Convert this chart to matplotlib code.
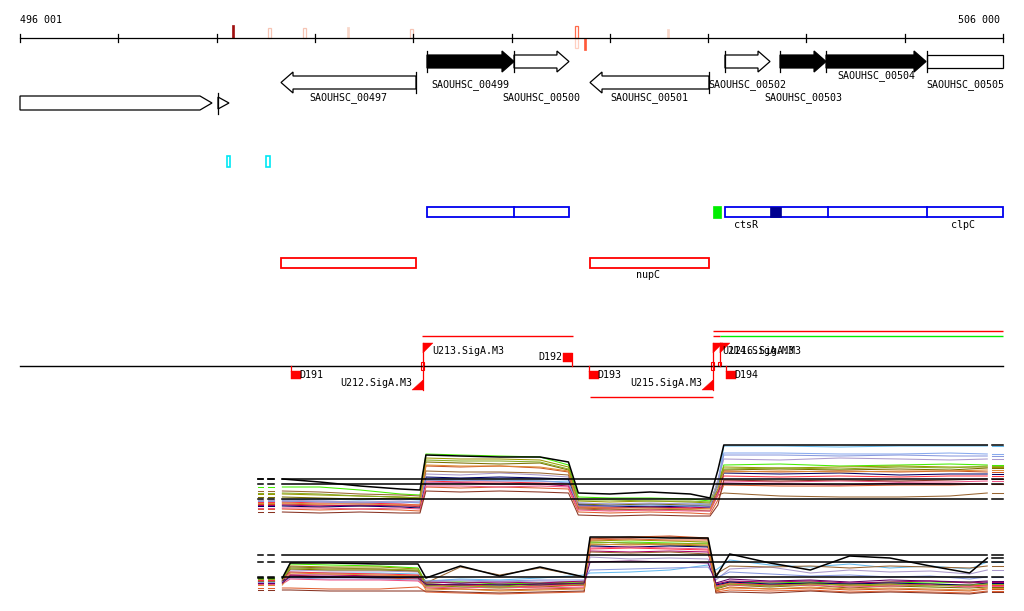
import matplotlib
matplotlib.use("Agg")
import matplotlib.pyplot as plt
from matplotlib.patches import Polygon, Rectangle

plt.rcParams['font.family'] = ['DejaVu Sans Mono', 'DejaVu Sans']

# ---------------------------------------------------------------- data
START, END = 496001, 506000
ruler_ticks = [496001, 497001, 498001, 499001, 500001, 501001, 502001,
               503001, 504001, 505001, 506000]
ruler_labels = ["496 001", "506 000"]

# small marks on the ruler (position, strand, score)
mark_pos = [498168, 498539, 498895, 499337, 499983, 501666, 501666, 501748, 502592]
mark_strand = [1, 1, 1, 1, 1, 1, -1, -1, 1]
mark_score = [13, 10, 10, 11, 9, 12, 10, 12, 9]
mark_color = ['#a01010', '#f6c4b4', '#f6c4b4', '#f8d6c8', '#f6c4b4',
              '#ff6a4a', '#ffcfc0', '#ff5a3a', '#f8d6c8']
mark_open = [False, True, True, False, True, True, True, False, False]

# genes
gene_names = ["", "", "SAOUHSC_00497", "SAOUHSC_00499", "SAOUHSC_00500",
              "SAOUHSC_00501", "SAOUHSC_00502", "SAOUHSC_00503",
              "SAOUHSC_00504", "SAOUHSC_00505"]
gene_start = [496001, 498015, 498656, 500141, 501026, 501799, 503172, 503732, 504200, 505227]
gene_end = [497954, 498127, 500029, 501026, 501585, 503009, 503630, 504200, 505217, 506000]
gene_strand = [1, 1, -1, 1, 1, -1, 1, 1, 1, 1]
gene_filled = [False, False, False, True, False, False, False, True, True, False]

# small cyan features
cyan_start = [498107, 498503]
cyan_end = [498137, 498544]

# operons (blue)
op_start = [500141, 503172]
op_end = [501585, 506000]
op_dividers = [[501026], [504220, 505227]]
navy_block = (503630, 503742)
green_block = (503050, 503131)
op_labels = ["ctsR", "clpC"]
op_label_pos = [503386, 505593]

# red boxes
red_start = [498656, 501799]
red_end = [500029, 503009]
red_labels = ["", "nupC"]
red_label_pos = [499342, 502389]

# transcripts
tx_start = [500090, 501799, 503050, 503050, 503121]
tx_end = [501626, 503050, 506000, 503121, 506000]
tx_color = ['#ff0000', '#ff0000', '#ff0000', '#ff0000', '#00ee00']

# sites
site_names = ["D191", "U212.SigA.M3", "U213.SigA.M3", "D192", "D193",
              "U215.SigA.M3", "U214.SigA.M3", "U216.SigA.M3", "D194"]
site_pos = [498758, 500100, 500100, 501616, 501789, 503050, 503050, 503121, 503182]
site_strand = [-1, -1, 1, 1, -1, -1, 1, 1, -1]

# expression profiles: positions
expr_left_stubs = [(498422, 498472), (498524, 498585)]
expr_right_stub = (505888, 506000)

p1_x = [498670, 499050, 499460, 499870, 500070,
        500130, 500480, 500880, 501290, 501580,
        501680, 502000, 502410, 502820, 503020,
        503100,
        503160, 503730, 504340, 504950, 505460, 505840]
p1_series = [
    [8.2, 7.6, 6.8, 6.2, 6.0, 13.0, 12.8, 12.6, 12.6, 11.6, 5.4, 5.2, 5.6, 5.2, 4.4, 10.0, 15.0, 15.0, 15.0, 15.0, 15.0, 15.0],
    [4.0, 4.2, 4.0, 4.2, 4.0, 8.0, 7.8, 8.0, 7.8, 7.6, 3.0, 2.8, 3.0, 2.8, 3.0, 7.0, 14.8, 14.8, 14.6, 14.8, 14.8, 14.8],
    [3.6, 3.8, 3.6, 3.4, 3.6, 8.4, 8.2, 8.4, 8.2, 8.0, 3.4, 3.2, 3.2, 3.4, 3.2, 8.0, 13.4, 13.4, 13.2, 13.2, 13.4, 13.2],
    [6.6, 6.6, 6.0, 5.2, 5.0, 13.2, 13.0, 12.8, 12.6, 11.0, 4.6, 4.4, 4.4, 4.2, 3.8, 7.0, 11.0, 11.2, 10.8, 11.0, 11.2, 11.0],
    [5.2, 5.0, 4.8, 4.6, 4.4, 12.4, 12.2, 12.2, 12.0, 10.6, 3.8, 3.6, 3.8, 3.6, 3.4, 7.6, 10.6, 10.4, 10.6, 10.8, 10.6, 10.6],
    [4.6, 4.4, 4.2, 4.4, 4.2, 11.6, 11.4, 11.2, 11.4, 10.0, 3.2, 3.0, 3.2, 3.0, 3.0, 7.0, 10.0, 10.2, 10.0, 10.2, 10.0, 10.4],
    [3.2, 3.0, 2.8, 3.0, 2.6, 10.8, 10.6, 10.8, 10.4, 9.6, 2.4, 2.2, 2.0, 2.2, 2.4, 5.0, 9.8, 9.6, 9.8, 9.6, 9.8, 9.6],
    [3.6, 3.4, 3.4, 3.2, 3.0, 7.8, 7.6, 7.6, 7.4, 7.2, 2.8, 2.6, 2.6, 2.4, 2.6, 6.0, 8.8, 8.6, 8.8, 8.6, 8.8, 8.8],
    [3.0, 2.8, 3.0, 2.8, 2.8, 7.4, 7.4, 7.2, 7.2, 6.8, 2.6, 2.4, 2.6, 2.4, 2.6, 5.6, 7.4, 7.2, 7.0, 7.4, 7.2, 7.2],
    [2.8, 2.6, 2.8, 2.6, 2.4, 8.6, 8.4, 8.6, 8.4, 8.2, 3.0, 2.8, 2.6, 2.8, 2.6, 6.0, 9.4, 9.2, 9.4, 9.0, 9.2, 9.2],
    [4.0, 3.8, 3.6, 3.8, 3.6, 9.2, 9.0, 9.4, 9.0, 8.6, 3.4, 3.2, 3.4, 3.2, 3.0, 8.0, 12.2, 12.0, 12.4, 12.2, 12.0, 12.2],
    [5.8, 5.6, 5.2, 5.0, 4.8, 9.8, 9.6, 9.6, 9.4, 9.0, 2.2, 2.0, 2.2, 2.0, 1.8, 5.0, 5.4, 4.8, 4.6, 4.6, 4.8, 5.4],
    [2.2, 2.0, 2.2, 2.0, 1.8, 6.6, 6.4, 6.6, 6.4, 6.2, 1.6, 1.4, 1.6, 1.4, 1.2, 4.0, 7.0, 6.8, 6.8, 7.0, 7.0, 7.2],
    [3.8, 3.6, 3.4, 3.6, 3.4, 8.0, 8.0, 7.8, 7.8, 7.4, 2.8, 2.8, 3.0, 2.8, 2.6, 7.0, 13.0, 13.0, 12.8, 13.0, 12.8, 12.8],
    [2.4, 2.4, 2.2, 2.4, 2.2, 6.8, 6.8, 6.6, 6.8, 6.6, 2.0, 1.8, 2.0, 1.8, 1.8, 5.0, 7.8, 7.6, 7.8, 7.6, 7.6, 7.8],
    [5.4, 5.2, 4.8, 4.6, 4.4, 12.0, 11.8, 11.8, 11.6, 10.2, 4.0, 4.0, 3.8, 3.8, 3.6, 6.0, 10.2, 10.4, 10.2, 10.6, 10.4, 10.8],
    [1.6, 1.4, 1.6, 1.4, 1.4, 5.8, 5.6, 5.8, 5.6, 5.4, 1.0, 0.8, 1.0, 0.8, 0.8, 3.0, 8.0, 7.8, 8.0, 7.8, 8.0, 8.2],
    [3.4, 3.2, 3.2, 3.0, 3.0, 11.0, 10.8, 10.8, 10.6, 9.8, 2.6, 2.4, 2.4, 2.2, 2.2, 6.0, 9.6, 9.8, 9.6, 9.8, 9.8, 10.0],
]
p1_colors = ['black', '#66bbee', '#88aaee', '#44ee00', '#999900', '#7a7000',
             '#cc5522', '#ff3344', '#aa0066', '#000066', '#aa99cc', '#996633',
             '#e06030', '#8899dd', '#ee5588', '#88aa22', '#883322', '#dd8833']
p1_refs = [8.2, 7.2, 4.2]

p2_x = [498670, 498750, 499150, 499660, 500050,
        500130, 500480, 500880, 501290, 501740,
        501800, 502210, 502610, 503000,
        503080, 503220, 503630, 504040, 504440, 504850, 505260, 505660, 505840]
p2_series = [
    [4.4, 7.4, 7.4, 7.2, 7.2, 4.4, 6.8, 4.8, 6.6, 4.6, 12.6, 12.6, 12.4, 12.4, 4.6, 9.2, 7.4, 6.0, 8.8, 8.4, 6.8, 5.4, 8.4],
    [4.0, 5.6, 5.4, 5.4, 5.2, 3.8, 4.2, 4.0, 4.4, 5.0, 5.4, 5.6, 6.0, 7.0, 6.0, 8.0, 7.0, 6.6, 7.2, 6.4, 6.8, 6.2, 7.6],
    [3.8, 6.0, 5.8, 5.8, 5.6, 3.6, 3.8, 3.6, 3.8, 3.6, 8.6, 8.2, 8.4, 8.2, 4.0, 6.2, 6.6, 5.4, 6.0, 5.6, 5.8, 5.2, 6.0],
    [4.4, 7.2, 7.0, 6.8, 6.4, 3.4, 3.6, 3.2, 3.4, 3.6, 11.4, 11.6, 11.4, 11.2, 2.6, 3.6, 3.4, 3.6, 3.2, 3.6, 3.4, 3.6, 3.2],
    [4.2, 6.8, 6.6, 6.6, 6.2, 3.2, 3.0, 2.8, 3.2, 3.4, 11.8, 12.0, 11.8, 11.6, 2.4, 3.2, 3.0, 3.4, 2.8, 3.0, 3.2, 2.8, 3.0],
    [3.8, 6.2, 6.0, 6.0, 5.8, 3.0, 2.6, 2.4, 2.6, 3.0, 11.0, 11.2, 11.0, 10.8, 2.2, 3.0, 2.6, 3.0, 2.4, 2.8, 2.6, 2.4, 2.6],
    [3.4, 5.0, 4.6, 4.4, 4.2, 2.4, 2.2, 2.0, 2.2, 2.4, 12.2, 12.6, 12.8, 12.4, 1.8, 2.6, 2.2, 2.4, 2.0, 2.2, 2.0, 1.8, 2.2],
    [4.0, 5.6, 5.4, 5.2, 5.0, 2.8, 3.0, 2.6, 2.8, 3.0, 10.2, 10.4, 10.2, 10.0, 2.8, 3.4, 3.0, 3.2, 3.0, 3.2, 3.0, 2.8, 3.0],
    [3.6, 5.0, 5.0, 4.8, 4.8, 3.6, 3.4, 3.6, 3.4, 3.8, 9.8, 9.6, 9.8, 9.6, 3.2, 3.8, 3.6, 3.8, 3.4, 3.6, 3.8, 3.4, 3.6],
    [3.8, 4.6, 4.6, 4.4, 4.6, 3.0, 3.2, 3.0, 3.2, 3.2, 10.8, 10.6, 10.8, 10.6, 3.0, 3.6, 3.2, 3.4, 3.2, 3.4, 3.2, 3.0, 3.4],
    [3.8, 6.6, 6.4, 6.2, 5.8, 3.4, 6.6, 5.0, 6.4, 4.6, 9.6, 9.4, 9.6, 9.2, 5.2, 6.8, 6.6, 6.8, 6.4, 6.8, 6.6, 6.4, 6.8],
    [2.4, 2.4, 2.2, 2.2, 2.6, 1.6, 1.4, 1.2, 1.4, 1.6, 12.0, 12.2, 12.0, 12.0, 1.6, 2.0, 1.8, 2.0, 1.6, 1.8, 1.6, 1.4, 1.8],
    [3.6, 4.4, 4.2, 4.2, 4.0, 3.8, 4.0, 3.8, 4.0, 4.0, 6.0, 6.2, 6.4, 6.6, 4.4, 5.6, 5.2, 4.8, 5.0, 4.6, 4.8, 4.2, 4.6],
    [3.2, 4.2, 4.0, 4.0, 3.8, 2.6, 2.4, 2.6, 2.4, 2.6, 10.4, 10.6, 10.4, 10.2, 2.6, 3.0, 2.8, 3.0, 2.6, 2.8, 3.0, 2.6, 2.8],
    [4.2, 6.4, 6.2, 6.2, 6.0, 2.8, 2.8, 2.6, 3.0, 3.2, 11.6, 11.4, 11.2, 11.4, 2.4, 3.2, 2.8, 3.2, 3.0, 3.2, 2.8, 3.0, 3.2],
    [2.0, 2.0, 1.8, 1.8, 1.8, 1.8, 1.6, 1.4, 1.6, 1.8, 12.4, 12.4, 12.6, 12.2, 1.4, 1.6, 1.4, 1.8, 1.4, 1.6, 1.4, 1.2, 1.6],
    [3.0, 5.4, 5.2, 5.0, 4.8, 2.0, 2.2, 1.8, 2.0, 2.2, 11.2, 11.0, 11.2, 11.0, 2.0, 2.4, 2.2, 2.6, 2.2, 2.4, 2.2, 2.0, 2.4],
    [3.4, 4.8, 4.6, 4.6, 4.4, 3.2, 3.0, 3.2, 3.0, 3.4, 7.6, 7.8, 7.6, 7.4, 3.4, 4.2, 3.8, 4.0, 3.6, 4.0, 3.8, 3.6, 3.8],
]
p2_colors = ['black', '#66bbee', '#aa99cc', '#44ee00', '#999900', '#7a7000',
             '#cc5522', '#ff3344', '#aa0066', '#000066', '#996633', '#e06030',
             '#8899dd', '#ee5588', '#88aa22', '#883322', '#dd8833', '#660066']
p2_refs = [9.0, 7.6, 4.6]

# ---------------------------------------------------------------- layout
W, H = 1024, 611
X0_PX, X1_PX = 20, 1003
BPP = (END - START) / (X1_PX - X0_PX)
XLIM = (START - X0_PX * BPP, START + (W - X0_PX) * BPP)
FS = 7.2
LW = 0.9


def px(n):
    return n * BPP


fig = plt.figure(figsize=(W / 100, H / 100), dpi=100)
ax = fig.add_axes([0, 0, 1, 1])
ax.set_xlim(*XLIM)
ax.set_ylim(H, 0)
ax.axis('off')

# ruler
RY = 38
ax.plot([START, END], [RY, RY], color='black', lw=LW)
for t in ruler_ticks:
    ax.plot([t, t], [RY - 4, RY + 4], color='black', lw=LW)
ax.text(START, 20, ruler_labels[0], ha='left', va='center', fontsize=FS)
ax.text(END - px(3), 20, ruler_labels[1], ha='right', va='center', fontsize=FS)

for p, s, h, c, o in zip(mark_pos, mark_strand, mark_score, mark_color, mark_open):
    w = px(3) if o else px(2)
    y0 = RY - h if s > 0 else RY
    if o:
        ax.add_patch(Rectangle((p - w / 2, y0), w, h, fill=False, ec=c, lw=0.9))
    else:
        ax.add_patch(Rectangle((p - w / 2, y0), w, h, fc=c, ec=c, lw=0.5))

# genes
gene_row_y = [103, 103, 82.5, 61.5, 61.5, 82.5, 61.5, 61.5, 61.5, 61.5]
gene_label_y = [None, None, 98, 85, 98, 98, 85, 98, 76, 85]
gene_style = ['pointed', 'tri', 'arrow', 'arrow', 'arrow', 'arrow', 'arrow', 'arrow', 'arrow', 'box']
BH, HH, HL = 6.5, 10.5, px(12)

for i in range(len(gene_names)):
    s, e, st, yc = gene_start[i], gene_end[i], gene_strand[i], gene_row_y[i]
    fc = 'black' if gene_filled[i] else 'white'
    style = gene_style[i]
    if style == 'pointed':
        pts = [(s, yc - 7), (e - HL, yc - 7), (e, yc), (e - HL, yc + 7), (s, yc + 7)]
        bar = None
    elif style == 'tri':
        pts = [(s, yc - 6), (e, yc), (s, yc + 6)]
        bar = (s, yc - 10.5, yc + 10.5)
    elif style == 'box':
        pts = [(s, yc - BH), (e, yc - BH), (e, yc + BH), (s, yc + BH)]
        bar = (s, yc - HH, yc + HH)
    elif st > 0:
        b = e - HL
        pts = [(s, yc - BH), (b, yc - BH), (b, yc - HH), (e, yc), (b, yc + HH),
               (b, yc + BH), (s, yc + BH)]
        bar = (s, yc - HH, yc + HH)
    else:
        b = s + HL
        pts = [(e, yc - BH), (b, yc - BH), (b, yc - HH), (s, yc), (b, yc + HH),
               (b, yc + BH), (e, yc + BH)]
        bar = (e, yc - HH, yc + HH)
    ax.add_patch(Polygon(pts, closed=True, fc=fc, ec='black', lw=LW, joinstyle='miter'))
    if bar is not None:
        ax.plot([bar[0], bar[0]], [bar[1], bar[2]], color='black', lw=LW)
    if gene_names[i]:
        ax.text((s + e) / 2, gene_label_y[i], gene_names[i], ha='center', va='center', fontsize=FS)

# cyan features
for s, e in zip(cyan_start, cyan_end):
    ax.add_patch(Rectangle((s, 156), e - s, 11, fill=False, ec='#00e8f4', lw=1.2))

# operons
OY0, OY1 = 207, 217
for s, e, divs in zip(op_start, op_end, op_dividers):
    ax.add_patch(Rectangle((s, OY0), e - s, OY1 - OY0, fill=False, ec='#0000ee', lw=1.3))
    for d in divs:
        ax.plot([d, d], [OY0, OY1], color='#0000ee', lw=1.3)
ax.add_patch(Rectangle((navy_block[0], OY0), navy_block[1] - navy_block[0], OY1 - OY0,
                       fc='#000090', ec='#000090', lw=0.5))
ax.add_patch(Rectangle((green_block[0], OY0 - 1), green_block[1] - green_block[0], OY1 - OY0 + 2,
                       fc='#00ee00', ec='#00ee00', lw=0.5))
for lab, p in zip(op_labels, op_label_pos):
    ax.text(p, 224.5, lab, ha='center', va='center', fontsize=FS)

# red boxes
for s, e in zip(red_start, red_end):
    ax.add_patch(Rectangle((s, 258), e - s, 10, fill=False, ec='#ff0000', lw=1.3))
for lab, p in zip(red_labels, red_label_pos):
    if lab:
        ax.text(p, 275.5, lab, ha='center', va='center', fontsize=FS)

# baseline + transcripts
BY = 366
ax.plot([START, END], [BY, BY], color='black', lw=1.0)
tx_y = [336, 397, 331, 336, 336]
for s, e, y, c in zip(tx_start, tx_end, tx_y, tx_color):
    ax.plot([s, e], [y, y], color=c, lw=1.0, solid_capstyle='butt')

RED = '#ff0000'
for name, p, st in zip(site_names, site_pos, site_strand):
    if name.startswith('D'):
        if st < 0:
            ax.plot([p, p], [BY, 371], color=RED, lw=0.9)
            ax.add_patch(Rectangle((p, 371), px(10), 8, fc=RED, ec=RED, lw=0.3))
            ax.text(p + px(8), 375.5, name, ha='left', va='center', fontsize=FS)
        else:
            ax.plot([p, p], [353, BY], color=RED, lw=0.9)
            ax.add_patch(Rectangle((p - px(9), 353), px(9), 9, fc=RED, ec=RED, lw=0.3))
            ax.text(p - px(10), 357.5, name, ha='right', va='center', fontsize=FS)
    else:
        if st < 0:
            ax.plot([p, p], [BY, 390], color=RED, lw=0.9)
            ax.add_patch(Polygon([(p - px(11), 390), (p, 390), (p, 380)], closed=True,
                                 fc=RED, ec=RED, lw=0.3))
            ax.add_patch(Rectangle((p - px(1.5), BY), px(3), 4, fill=False, ec=RED, lw=0.8))
            ax.text(p - px(11), 383.5, name, ha='right', va='center', fontsize=FS)
        else:
            ax.plot([p, p], [343, BY], color=RED, lw=0.9)
            ax.add_patch(Polygon([(p, 343), (p + px(10), 343), (p, 353)], closed=True,
                                 fc=RED, ec=RED, lw=0.3))
            ax.add_patch(Rectangle((p - px(1.5), BY - 4), px(3), 4, fill=False, ec=RED, lw=0.8))
            ax.text(p + px(9), 350.5, name, ha='left', va='center', fontsize=FS)


# expression panels
def expr_panel(top_px, bot_px, vmax, xs, series, colors, refs):
    pax = fig.add_axes([0, (H - bot_px) / H, 1, (bot_px - top_px) / H])
    pax.set_xlim(*XLIM)
    pax.set_ylim(0, vmax)
    pax.axis('off')
    order = list(range(1, len(series))) + [0]
    for k in order:
        vals, c = series[k], colors[k]
        lw = 1.1 if c == 'black' else 0.75
        z = 3 if c == 'black' else 2
        pax.plot(xs, vals, color=c, lw=lw, zorder=z)
        for a, b in expr_left_stubs:
            pax.plot([a, b], [vals[0], vals[0]], color=c, lw=lw, zorder=z)
        a, b = expr_right_stub
        pax.plot([a, b], [vals[-1], vals[-1]], color=c, lw=lw, zorder=z)
    for r in refs:
        pax.plot([xs[0], xs[-1]], [r, r], color='black', lw=1.1, zorder=4)
        a, b = expr_right_stub
        pax.plot([a, b], [r, r], color='black', lw=1.1, zorder=4)
        for a, b in expr_left_stubs:
            pax.plot([a, b], [r, r], color='black', lw=1.1, zorder=4)
    return pax


expr_panel(440, 520, 16, p1_x, p1_series, p1_colors, p1_refs)
expr_panel(530, 600, 14, p2_x, p2_series, p2_colors, p2_refs)

fig.savefig("out.png", dpi=100, facecolor='white')
